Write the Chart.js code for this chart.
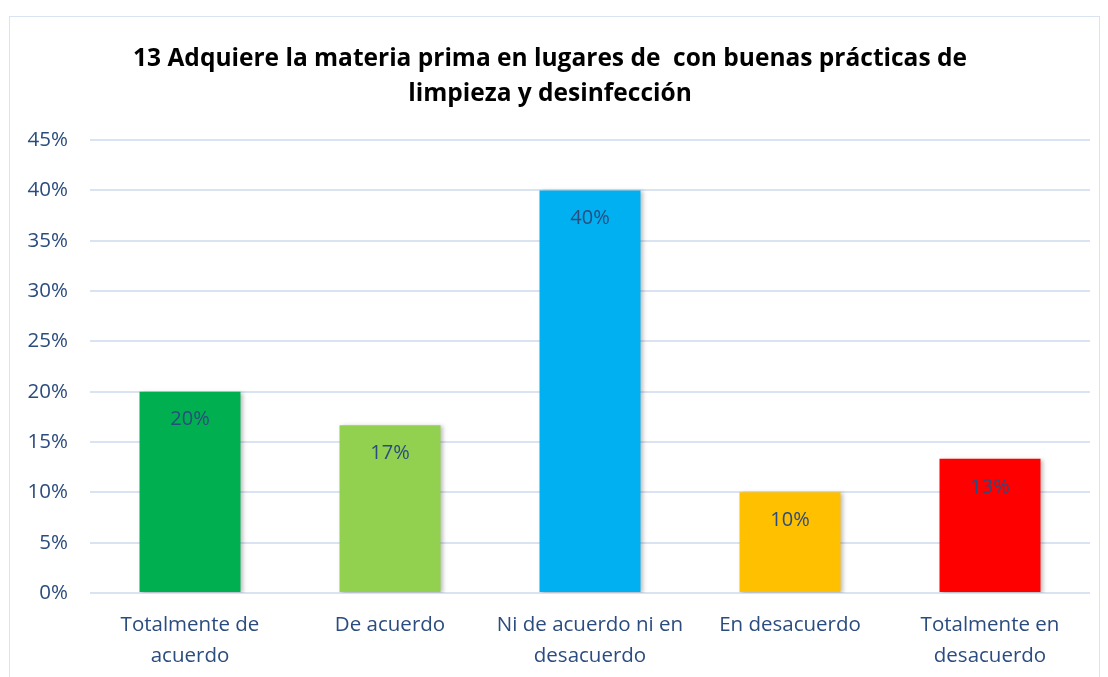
<!DOCTYPE html>
<html>
<head>
<meta charset="utf-8">
<script src="https://cdn.jsdelivr.net/npm/chart.js@4.4.1/dist/chart.umd.min.js"></script>
<style>
  body { margin: 0; background: #fff; overflow: hidden; }
  #box {
    position: absolute; left: 9px; top: 16px;
    width: 1089px; height: 680px;
    border: 1px solid #d9e3f1;
  }
  #chart { display: block; }
</style>
</head>
<body>
<div id="box"><canvas id="chart" width="1089" height="661"></canvas></div>
<script>
var titleLines = ['13 Adquiere la materia prima en lugares de  con buenas prácticas de', 'limpieza y desinfección'];
var categories = [['Totalmente de', 'acuerdo'], 'De acuerdo', ['Ni de acuerdo ni en', 'desacuerdo'], 'En desacuerdo', ['Totalmente en', 'desacuerdo']];
var values = [20, 16.67, 40, 10, 13.33];
var barColors = ['#00B050', '#92D050', '#00B0F0', '#FFC000', '#FF0000'];

var fontFamily = "'Open Sans', Lato, sans-serif";
var textBlue = '#2b4c7e';

// soft shadow on the bars, like the office chart
var barShadow = {
    id: 'barShadow',
    beforeDatasetsDraw: function (chart) {
        var ctx = chart.ctx;
        ctx.save();
        ctx.shadowColor = 'rgba(0,0,0,0.25)';
        ctx.shadowBlur = 4;
        ctx.shadowOffsetX = 2;
        ctx.shadowOffsetY = 1;
    },
    afterDatasetsDraw: function (chart) {
        chart.ctx.restore();
    }
};

// value labels just inside the top of each bar
var valueLabels = {
    id: 'valueLabels',
    afterDatasetsDraw: function (chart) {
        var ctx = chart.ctx;
        var meta = chart.getDatasetMeta(0);
        ctx.save();
        ctx.font = '20px ' + fontFamily;
        ctx.fillStyle = textBlue;
        ctx.textAlign = 'center';
        ctx.textBaseline = 'middle';
        meta.data.forEach(function (bar, i) {
            ctx.fillText(Math.round(values[i]) + '%', bar.x, bar.y + 28);
        });
        ctx.restore();
    }
};

var ctx = document.getElementById('chart').getContext('2d');
var chart = new Chart(ctx, {
    type: 'bar',
    data: {
        labels: categories,
        datasets: [{
            data: values,
            backgroundColor: barColors,
            borderWidth: 0,
            barPercentage: 0.505,
            categoryPercentage: 1
        }]
    },
    options: {
        responsive: false,
        animation: false,
        layout: { padding: { left: 0, right: 9, top: 0, bottom: 0 } },
        plugins: {
            legend: { display: false },
            tooltip: { enabled: false },
            title: {
                display: true,
                text: titleLines,
                color: '#000',
                font: { family: fontFamily, size: 24.5, weight: 'bold', lineHeight: 1.43 },
                padding: { top: 24, bottom: 29 }
            }
        },
        scales: {
            x: {
                grid: { display: false },
                border: { display: false },
                ticks: {
                    color: textBlue,
                    font: { family: fontFamily, size: 20.5, lineHeight: 1.5 },
                    padding: 9,
                    maxRotation: 0
                },
                afterFit: function (scale) { scale.height = 85; }
            },
            y: {
                min: 0,
                max: 45,
                grid: { color: '#d9e3f1', lineWidth: 2, drawTicks: false },
                border: { display: false },
                ticks: {
                    stepSize: 5,
                    color: textBlue,
                    font: { family: fontFamily, size: 20.5 },
                    padding: 22,
                    callback: function (v) { return v + '%'; }
                },
                afterFit: function (scale) { scale.width = 80; }
            }
        }
    },
    plugins: [barShadow, valueLabels]
});
</script>
</body>
</html>
